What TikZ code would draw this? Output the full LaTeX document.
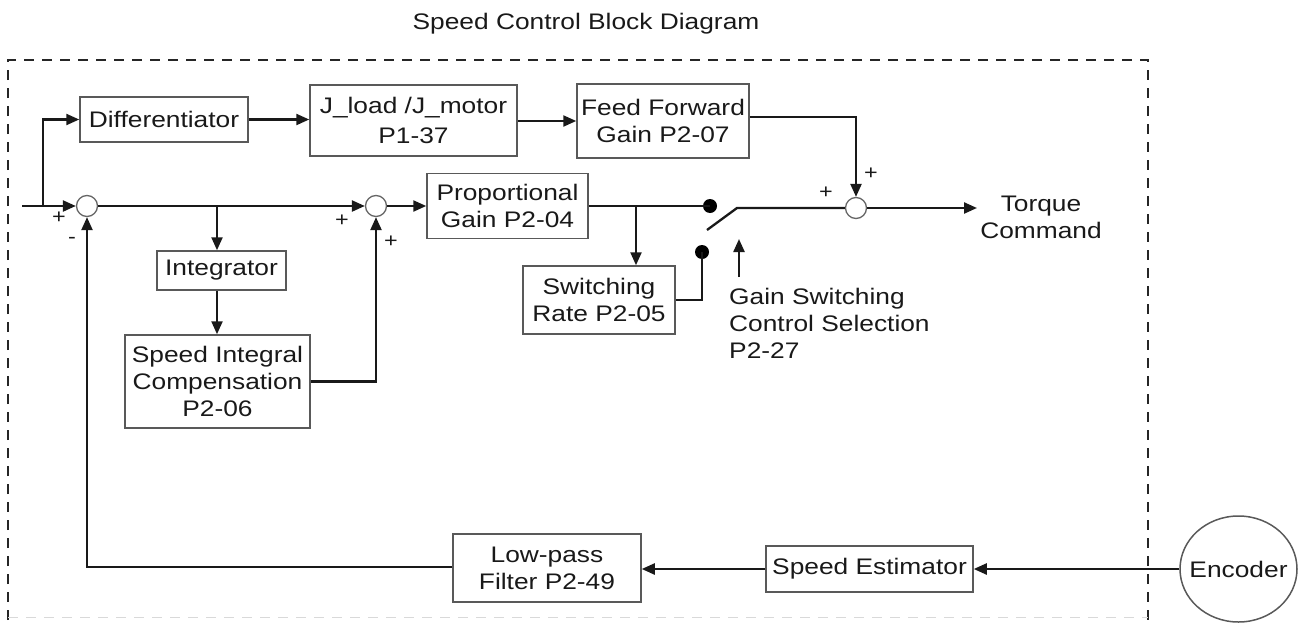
\documentclass[tikz,border=0pt]{standalone}
\usepackage{fontspec}
\setmainfont{Liberation Sans}[FakeStretch=1.17]
\usetikzlibrary{arrows.meta,shapes.geometric}
\begin{document}
\begin{tikzpicture}[x=1pt,y=-1pt,
  txt/.style={font=\fontsize{22.5}{27}\selectfont, text=black!90},
  blk/.style={txt, draw=black!65, line width=1.5pt, align=center, inner sep=0pt},
  sumj/.style={circle, draw=black!60, line width=1.3pt, minimum size=21pt, inner sep=0pt, fill=white},
  dotn/.style={circle, fill=black, minimum size=14pt, inner sep=0pt},
  conn/.style={line width=2.3pt, draw=black!90},
  arr/.style={conn, -{Triangle[length=13pt,width=11pt]}},
  sgn/.style={font=\fontsize{20}{20}\selectfont, inner sep=0pt, text=black!90},
  bord/.style={line width=2.2pt, draw=black!85, dash pattern=on 10pt off 8pt}
]
\useasboundingbox (0,0) rectangle (1299,624);
% border
\draw[bord] (8,620) -- (8,60) -- (1148,60) -- (1148,620);
\draw[line width=1pt, draw=black!15, dash pattern=on 10pt off 8pt] (8,617) -- (1148,617);
% title
\node[txt] (title) at (586,24) {Speed Control Block Diagram};
% blocks
\node[blk, minimum width=168pt, minimum height=45pt] (diff) at (164,119.5) {Differentiator};
\node[blk, minimum width=207pt, minimum height=71pt, font=\fontsize{22.5}{30}\selectfont] (jl) at (413.5,120.5) {J\_load /J\_motor\\P1-37};
\node[blk, minimum width=172pt, minimum height=74pt] (ff) at (663,121) {Feed Forward\\Gain P2-07};
\node[blk, minimum width=161pt, minimum height=65pt] (pg) at (507.5,206) {Proportional\\Gain P2-04};
\node[blk, minimum width=152pt, minimum height=68pt] (sr) at (599,300) {Switching\\Rate P2-05};
\node[blk, minimum width=129pt, minimum height=39pt] (integ) at (221.5,270.5) {Integrator};
\node[blk, minimum width=185pt, minimum height=93pt] (si) at (217.5,381.5) {Speed Integral\\Compensation\\P2-06};
\node[blk, minimum width=188pt, minimum height=68pt] (lp) at (547,568) {Low-pass\\Filter P2-49};
\node[blk, minimum width=207pt, minimum height=46pt] (se) at (869.5,569) {Speed Estimator};
\node[ellipse, draw=black!65, line width=1.5pt, minimum width=117pt, minimum height=106pt, inner sep=0pt] (enc) at (1238.5,569) {};
\node[txt] (enct) at (enc.center) {Encoder};
% sums
\node[sumj] (s1) at (87,206) {};
\node[sumj] (s2) at (376,206) {};
\node[sumj] (s3) at (856,208) {};
% dots
\node[dotn] (d1) at (710,206) {};
\node[dotn] (d2) at (702,252) {};
% coordinates
\coordinate (in) at (22,206);
\coordinate (b0) at (43,206);
\coordinate (b1) at (217,206);
\coordinate (b2) at (636,206);
\coordinate (bl) at (707,230);
\coordinate (bt) at (737,208);
\coordinate (gsa) at (739,277);
\coordinate (gsb) at (739,239);
\coordinate (tq) at (977,208);
% connectors
\draw[arr] (in) -- (s1.west);
\draw[arr] (b0) |- (diff.west);
\draw[arr] (diff.east) -- (jl.west |- diff.east);
\draw[arr] (jl.east |- ff.west) -- (ff.west);
\draw[arr] ([yshift=4pt]ff.east) -| (s3.north);
\draw[arr] (s1.east) -- (s2.west);
\draw[arr] (b1) -- (b1 |- integ.north);
\draw[arr] (integ.south -| b1) -- (si.north -| b1);
\draw[arr] (si.east) -| (s2.south);
\draw[arr] (s2.east) -- (pg.west);
\draw[conn] (pg.east) -- (d1.center);
\draw[arr] (b2) -- (sr.north -| b2);
\draw[conn] (sr.east) -| (d2.center);
\draw[conn] (bl) -- (bt) -- (s3.west);
\draw[arr] (gsa) -- (gsb);
\draw[arr] (s3.east) -- (tq);
\draw[arr] (enc.west) -- (se.east);
\draw[arr] (se.west) -- (se.west -| lp.east);
\draw[arr] (lp.west |- 0,567) -| (s1.south);
% texts
\node[txt, align=center] (torque) at (1041,217) {Torque\\Command};
\node[txt, align=left, anchor=west, inner sep=0pt] (gs) at (729,323) {Gain Switching\\Control Selection\\P2-27};
% signs
\node[sgn] (p1) at (59,218) {+};
\node[sgn] (m1) at (72,240) {-};
\node[sgn] (p2) at (342,221) {+};
\node[sgn] (p3) at (391,242) {+};
\node[sgn] (p4) at (826,193) {+};
\node[sgn] (p5) at (871,174) {+};
\end{tikzpicture}
\end{document}
